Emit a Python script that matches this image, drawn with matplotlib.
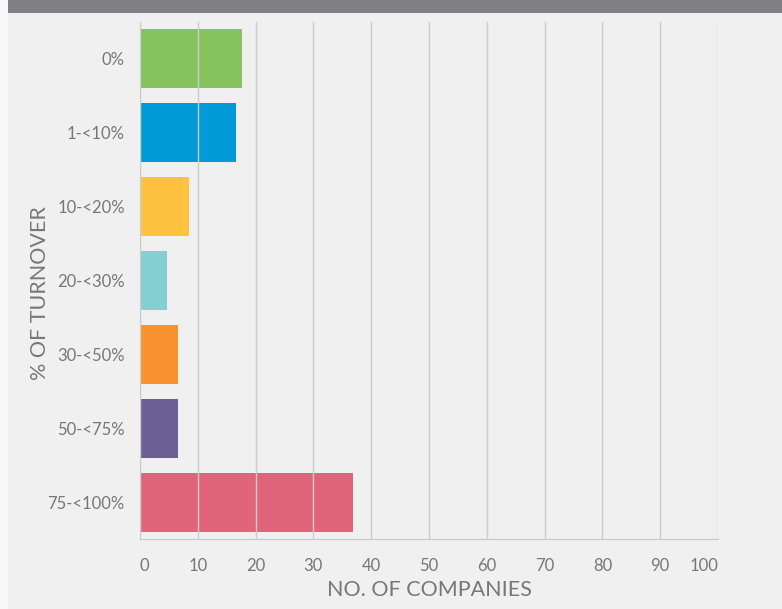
import matplotlib
matplotlib.use("Agg")
import matplotlib.pyplot as plt
from matplotlib.patches import Rectangle

categories = ["0%", "1-<10%", "10-<20%", "20-<30%", "30-<50%", "50-<75%", "75-<100%"]
values = [17.6, 16.6, 8.4, 4.7, 6.5, 6.5, 36.8]
colors = ["#86c35f", "#009bd6", "#ffc140", "#84cfd1", "#f99330", "#6b5f96", "#e0647a"]
xticks = [0, 10, 20, 30, 40, 50, 60, 70, 80, 90, 100]

plt.rcParams['font.family'] = ['Lato', 'DejaVu Sans']

fig = plt.figure(figsize=(7.82, 6.09), dpi=100)
fig.patch.set_facecolor("#f0f0f0")
fig.add_artist(Rectangle((0, 0), 8/782, 1, transform=fig.transFigure,
                         facecolor="#f8f8f8", edgecolor="none"))
fig.add_artist(Rectangle((8/782, 1 - 13/609), 1, 13/609, transform=fig.transFigure,
                         facecolor="#808084", edgecolor="none"))

ax = fig.add_axes([140/782, 1 - 539/609, (718 - 140)/782, (539 - 22)/609])
ax.set_facecolor("#f0f0f0")
ypos = list(range(len(categories)))
ax.barh(ypos, values, height=0.8, color=colors, zorder=1)
ax.set_xlim(0, 100)
ax.set_ylim(6.5, -0.5)
ax.set_yticks(ypos)
ax.set_yticklabels(categories)
ax.set_xticks(xticks)
ax.set_xticklabels([str(t) for t in xticks])
ax.grid(axis='x', color="#cccccc", linewidth=1, zorder=2)
ax.set_axisbelow(False)
for s in ['top', 'right']:
    ax.spines[s].set_visible(False)
ax.spines['left'].set_color("#cccccc")
ax.spines['bottom'].set_color("#c8c8c8")
ax.tick_params(axis='both', length=0, colors="#777777", labelsize=12)
ax.tick_params(axis='y', pad=11)
ax.tick_params(axis='x', pad=14)
xl = ax.get_xticklabels()
xl[0].set_horizontalalignment('left')
xl[-1].set_horizontalalignment('right')
ax.set_xlabel("NO. OF COMPANIES", color="#777777", fontsize=15.5, labelpad=4)
ax.set_ylabel("% OF TURNOVER", color="#777777", fontsize=15.5)
ax.yaxis.set_label_coords(-0.155, 0.476)

fig.savefig("out.png", dpi=100, facecolor=fig.get_facecolor())
